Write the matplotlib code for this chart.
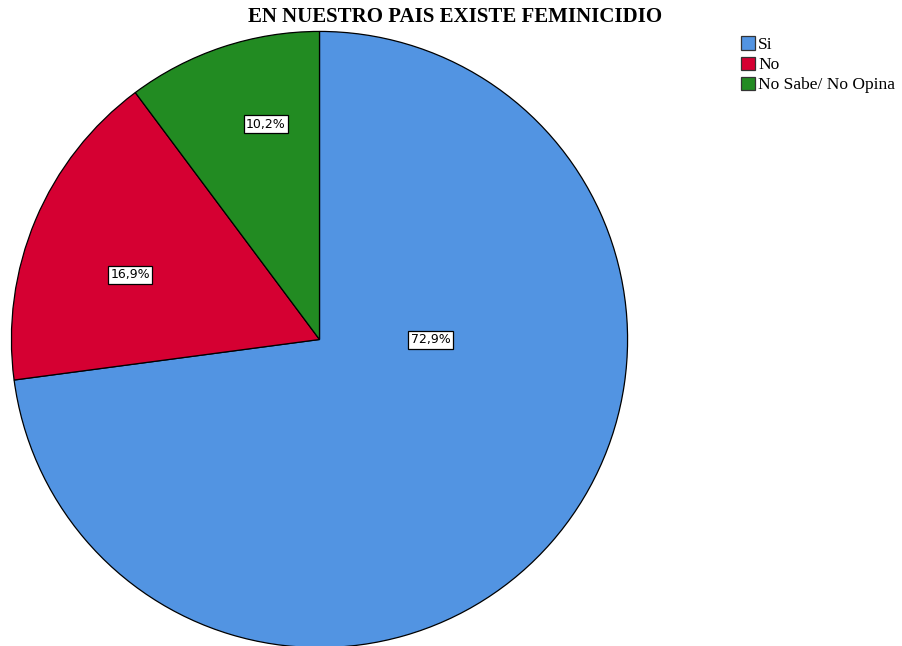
import matplotlib.pyplot as plt
from matplotlib.patches import Patch

# Data
categories = ["Si", "No", "No Sabe/ No Opina"]
values = [72.9, 16.9, 10.2]
pct_labels = ["72,9%", "16,9%", "10,2%"]
colors = ["#5294e2", "#d50032", "#228b22"]
# label positions inside the pie (relative to radius)
label_pos = [(0.36, 0.0), (-0.615, 0.21), (-0.174, 0.698)]

fig = plt.figure(figsize=(9.02, 6.46), dpi=100)
ax = fig.add_axes([10.5 / 902, -2.5 / 646, 618 / 902, 618 / 646])

wedges, _ = ax.pie(values, colors=colors, startangle=90, counterclock=False,
                   radius=1, wedgeprops=dict(edgecolor="black", linewidth=0.9))
ax.set_xlim(-1.003, 1.003)
ax.set_ylim(-1.003, 1.003)
ax.set_aspect("equal")
ax.axis("off")

for (x, y), txt in zip(label_pos, pct_labels):
    ax.text(x, y, txt, ha="center", va="center", fontsize=9, family="DejaVu Sans",
            bbox=dict(boxstyle="square,pad=0.2", facecolor="white", edgecolor="black", linewidth=0.9))

fig.text(455 / 902, 1 - 17 / 646, "EN NUESTRO PAIS EXISTE FEMINICIDIO", ha="center", va="center",
         fontsize=15, fontweight="bold", family="Liberation Serif")

handles = [Patch(facecolor=c, edgecolor="#333333", linewidth=0.9) for c in colors]
fig.legend(handles, categories, loc="upper left", bbox_to_anchor=(738 / 902, 1 - 33 / 646),
           frameon=False, prop={"family": "Liberation Serif", "size": 12.5},
           handlelength=0.8, handleheight=0.8, handletextpad=0.15, labelspacing=0.2,
           borderaxespad=0, borderpad=0.2)

fig.savefig("out.png", dpi=100)
